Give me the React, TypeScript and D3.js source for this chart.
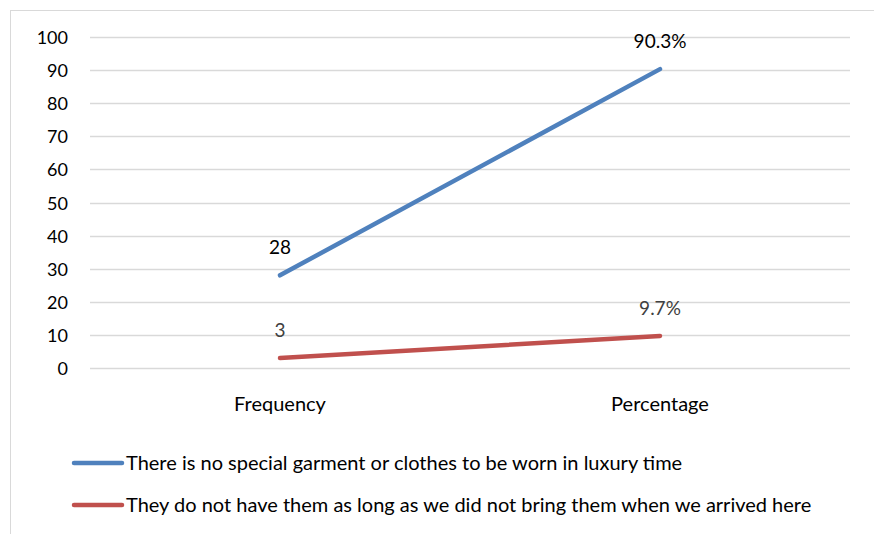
import React from "react";
import * as d3 from "d3";

const categories = ["Frequency", "Percentage"];
const seriesNames = [
  "There is no special garment or clothes to be worn in luxury time",
  "They do not have them as long as we did not bring them when we arrived here",
];
const seriesBlue = [28, 90.3];
const seriesRed = [3, 9.7];
const labelsBlue = ["28", "90.3%"];
const labelsRed = ["3", "9.7%"];
const yTicks = [0, 10, 20, 30, 40, 50, 60, 70, 80, 90, 100];

const W = 874;
const H = 534;
const FONT = "Lato, 'Open Sans', sans-serif";

export default function App() {
  const x = d3.scaleBand<string>().domain(categories).range([90, 850]);
  const y = d3.scaleLinear().domain([0, 100]).range([368, 37]);
  const cx = (i: number) => (x(categories[i]) as number) + x.bandwidth() / 2;
  const line = d3
    .line<number>()
    .x((_, i) => cx(i))
    .y((d) => y(d));

  const series = [
    { name: seriesNames[0], values: seriesBlue, labels: labelsBlue, color: "#4F81BD", labelColor: "#000000" },
    { name: seriesNames[1], values: seriesRed, labels: labelsRed, color: "#C0504D", labelColor: "#404040" },
  ];

  return (
    <div style={{ position: "fixed", left: 0, top: 0 }}>
      <svg width={W} height={H} style={{ display: "block", background: "#fff" }} fontFamily={FONT}>
        <rect x={10.5} y={10.5} width={900} height={700} fill="#fff" stroke="#d9d9d9" strokeWidth={1} />
        {yTicks.map((t) => (
          <g key={t}>
            <line x1={90} x2={850} y1={Math.round(y(t)) + 0.5} y2={Math.round(y(t)) + 0.5} stroke="#d9d9d9" strokeWidth={1.3} />
            <text x={68} y={y(t) + 7} textAnchor="end" fontSize={18} fill="#000">
              {t}
            </text>
          </g>
        ))}
        {categories.map((c, i) => (
          <text key={c} x={cx(i)} y={411} textAnchor="middle" fontSize={20} fill="#000">
            {c}
          </text>
        ))}
        {series.map((s) => (
          <g key={s.name}>
            <path d={line(s.values) || ""} fill="none" stroke={s.color} strokeWidth={4.5} strokeLinecap="round" />
            {s.values.map((v, i) => (
              <text key={i} x={cx(i)} y={y(v) - 21} textAnchor="middle" fontSize={19} fill={s.labelColor}>
                {s.labels[i]}
              </text>
            ))}
          </g>
        ))}
        {series.map((s, i) => (
          <g key={"lg" + i} transform={`translate(0, ${463 + i * 42})`}>
            <line x1={74} x2={122} y1={0} y2={0} stroke={s.color} strokeWidth={4.5} strokeLinecap="round" />
            <text x={126} y={7} fontSize={20} fill="#000">
              {s.name}
            </text>
          </g>
        ))}
      </svg>
    </div>
  );
}
